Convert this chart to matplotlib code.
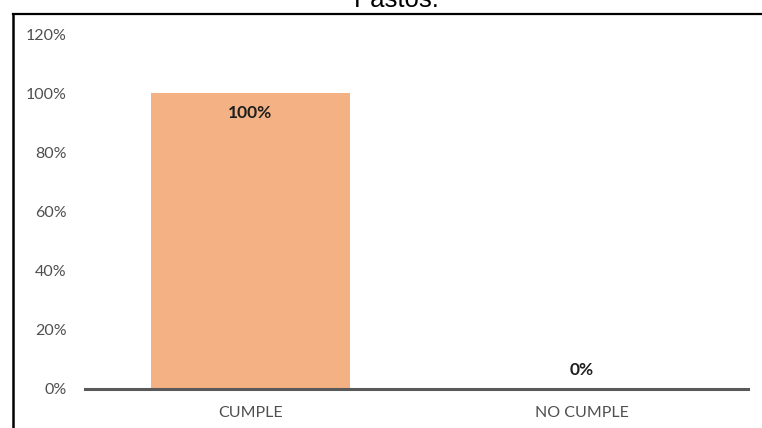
import matplotlib
matplotlib.use("Agg")
import matplotlib.pyplot as plt
from matplotlib.lines import Line2D

# Chart data
categories = ["CUMPLE", "NO CUMPLE"]
values = [1.00, 0.00]
value_labels = ["100%", "0%"]
y_ticks = [0.0, 0.2, 0.4, 0.6, 0.8, 1.0, 1.2]
y_tick_labels = ["0%", "20%", "40%", "60%", "80%", "100%", "120%"]
title = "Pastos."

W, H, DPI = 762, 428, 100
fig = plt.figure(figsize=(W / DPI, H / DPI), dpi=DPI)
fig.patch.set_facecolor("white")

font = ["Lato", "DejaVu Sans"]
gray = "#4f4f4f"

# Plot area in pixel coordinates
left_px, right_px = 84.5, 747.5
base_px, top_px = 388.5, 34.0
ax = fig.add_axes([left_px / W, 1 - base_px / H,
                   (right_px - left_px) / W, (base_px - top_px) / H])

x = list(range(len(categories)))
ax.bar(x, values, width=0.6, color="#F4B183", zorder=2)

ax.set_xlim(-0.5, len(categories) - 0.5)
ax.set_ylim(0, 1.2)
ax.set_yticks(y_ticks)
ax.set_yticklabels(y_tick_labels, fontfamily=font, fontsize=11.5, color=gray)
ax.set_xticks(x)
ax.set_xticklabels(categories, fontfamily=font, fontsize=11.5, color=gray)
ax.tick_params(axis="y", length=0, pad=13)
ax.tick_params(axis="x", length=0, pad=12.5)

for side in ["top", "right", "left"]:
    ax.spines[side].set_visible(False)
ax.spines["bottom"].set_color("#595959")
ax.spines["bottom"].set_linewidth(2.2)
ax.spines["bottom"].set_zorder(3)

# Value labels
for xi, v, lab in zip(x, values, value_labels):
    offset = -14.5 if v >= 0.1 else 13
    ax.annotate(lab, (xi, v), xytext=(0, offset), textcoords="offset points",
                ha="center", va="center", fontfamily=font, fontsize=12.5,
                fontweight="bold", color="#1f1f1f")

# Title above the framed chart area
fig.text(397 / W, 1 - 7 / H, title, ha="center", va="baseline",
         fontfamily=["Liberation Sans", "DejaVu Sans"], fontsize=18.5,
         color="black")

# Chart frame (left and top edges)
bx, by = 13 / W, 1 - 13.5 / H
fig.add_artist(Line2D([bx, bx], [0, by], transform=fig.transFigure,
                      color="black", linewidth=1.8, solid_capstyle="projecting"))
fig.add_artist(Line2D([bx, 1.0], [by, by], transform=fig.transFigure,
                      color="black", linewidth=1.6, solid_capstyle="projecting"))

fig.savefig("out.png", dpi=DPI)
